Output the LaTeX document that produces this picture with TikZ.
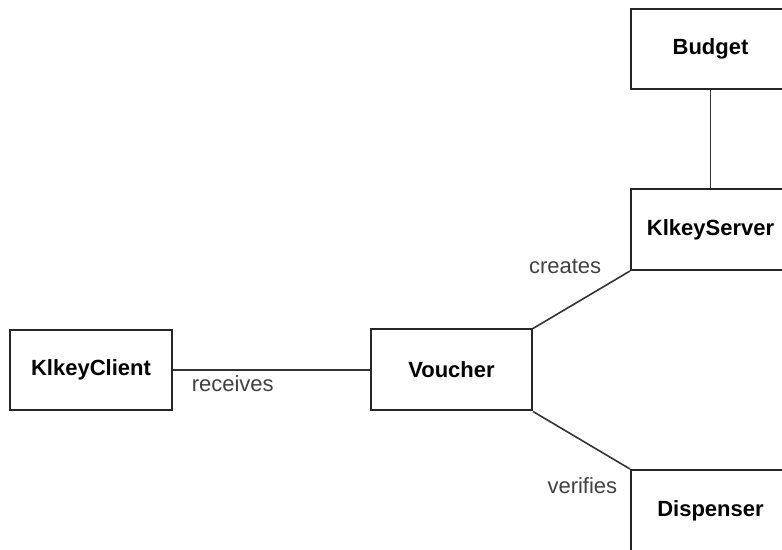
\documentclass[tikz,border=0pt]{standalone}
\usepackage{fontspec}
\setmainfont{Liberation Sans}
\usetikzlibrary{positioning}

\begin{document}
\begin{tikzpicture}[x=0.5pt,y=-0.5pt,
    cls/.style={draw=black!85,line width=1pt,fill=white,minimum width=80pt,minimum height=40pt,align=center,font=\fontsize{11}{13}\selectfont\bfseries},
    role/.style={inner sep=0pt,text=black!75,font=\fontsize{11}{13}\selectfont},
    assoc/.style={draw=black!80,line width=0.8pt}]
  \useasboundingbox (0,0) rectangle (782,550);
  \clip (0,0) rectangle (782,550);
  % classes
  \node[cls,minimum width=79.5pt] (budget) at (710.5,49) {Budget};
  \node[cls,minimum width=79.5pt,minimum height=40.5pt] (server) at (710.5,229.5) {KlkeyServer};
  \node[cls,minimum width=81pt] (client) at (91,370) {KlkeyClient};
  \node[cls,minimum width=80.5pt,minimum height=40.5pt] (voucher) at (451.5,370) {Voucher};
  \node[cls,minimum width=79.5pt,minimum height=41pt] (disp) at (710.5,511) {Dispenser};
  % associations
  \draw[assoc] (budget) -- (server);
  \draw[assoc] (client.east) -- node[role,pos=0,anchor=base west,xshift=9pt,yshift=-11pt]{receives} (voucher.west);
  \draw[assoc] (voucher.north east) -- node[role,pos=1,anchor=base east,xshift=-14pt,yshift=-1.5pt]{creates} (server.south west);
  \draw[assoc] (voucher.south east) -- node[role,pos=1,anchor=base east,xshift=-6pt,yshift=-12.5pt]{verifies} (disp.north west);
\end{tikzpicture}
\end{document}
